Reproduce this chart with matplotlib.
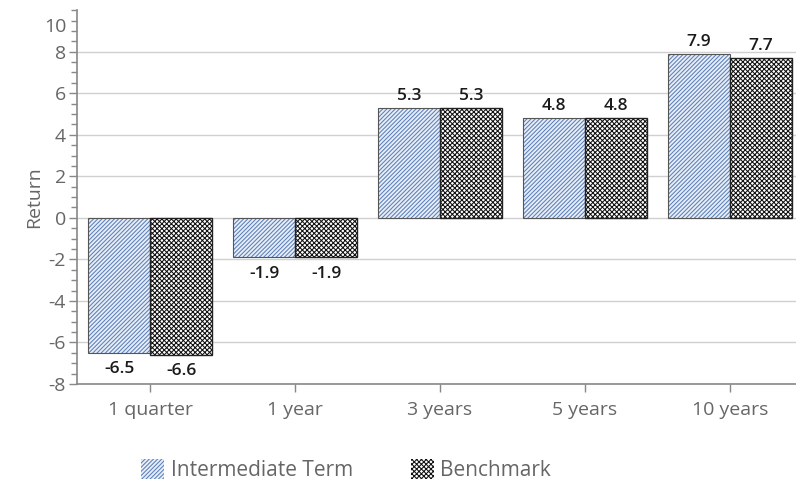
import numpy as np
import matplotlib
matplotlib.use("Agg")
import matplotlib.pyplot as plt

periods = ["1 quarter", "1 year", "3 years", "5 years", "10 years"]
intermediate = [-6.5, -1.9, 5.3, 4.8, 7.9]
benchmark = [-6.6, -1.9, 5.3, 4.8, 7.7]
series_names = ["Intermediate Term", "Benchmark"]
yticks = [-8, -6, -4, -2, 0, 2, 4, 6, 8]

plt.rcParams["font.family"] = ["Open Sans", "DejaVu Sans"]
plt.rcParams["axes.unicode_minus"] = False
plt.rcParams["hatch.linewidth"] = 0.75

gray = "#666666"
fig = plt.figure(figsize=(7.96, 4.83), dpi=100)
ax = fig.add_axes([0.097, 0.205, 0.911, 0.774])

x = np.arange(len(periods))
w = 0.428

# hatched fills first, outlines drawn on top
b1 = ax.bar(x - w / 2, intermediate, w, color="#e8eef7", edgecolor="#5a7fb8",
            hatch="////////", linewidth=0, zorder=3)
ax.bar(x - w / 2, intermediate, w, fill=False, edgecolor="#555555",
       linewidth=0.8, zorder=4)
b2 = ax.bar(x + w / 2, benchmark, w, color="white", edgecolor="#111111",
            hatch="xxxxxxx", linewidth=0, zorder=3)
ax.bar(x + w / 2, benchmark, w, fill=False, edgecolor="#222222",
       linewidth=1.0, zorder=4)

for xs, vals in ((x - w / 2, intermediate), (x + w / 2, benchmark)):
    for xi, v in zip(xs, vals):
        off = 3 if v >= 0 else -6
        ax.annotate(f"{v:.1f}", (xi, v), xytext=(0, off), textcoords="offset points",
                    ha="center", va="bottom" if v >= 0 else "top",
                    fontsize=12.5, fontweight="semibold", color="#1a1a1a")

ax.set_xlim(-0.503, 4.5)
ax.set_ylim(-8, 10)
ax.set_yticks(yticks)
ax.set_yticks(np.arange(-8, 10.01, 0.5), minor=True)
ax.set_xticks(x)
ax.set_xticklabels(periods)
ax.grid(axis="y", color="#d0d0d0", linewidth=1.0, zorder=0)
ax.set_axisbelow(True)

for s in ("top", "right"):
    ax.spines[s].set_visible(False)
for s in ("left", "bottom"):
    ax.spines[s].set_color("#888888")
    ax.spines[s].set_linewidth(1.2)

ax.tick_params(axis="both", colors="#888888", labelcolor=gray, labelsize=14)
ax.tick_params(axis="y", which="major", length=6, width=1, pad=2)
ax.tick_params(axis="y", which="minor", length=4, width=1, color="#888888")
ax.tick_params(axis="x", length=6, width=1, pad=6)

# "10" label sits a bit below its tick in the original
ax.annotate("10", (0, 10), xycoords=ax.get_yaxis_transform(), xytext=(-8, -12),
            textcoords="offset points", ha="right", va="center",
            fontsize=14, color=gray)

ax.set_ylabel("Return", fontsize=14, color=gray, labelpad=4)

fig.legend([b1, b2], series_names, loc="center", ncol=2,
           bbox_to_anchor=(0.435, 0.027), frameon=False, fontsize=15,
           labelcolor=gray, handlelength=1.1, handleheight=1.1,
           handletextpad=0.3, columnspacing=2.8)

fig.savefig("out.png", dpi=100)
